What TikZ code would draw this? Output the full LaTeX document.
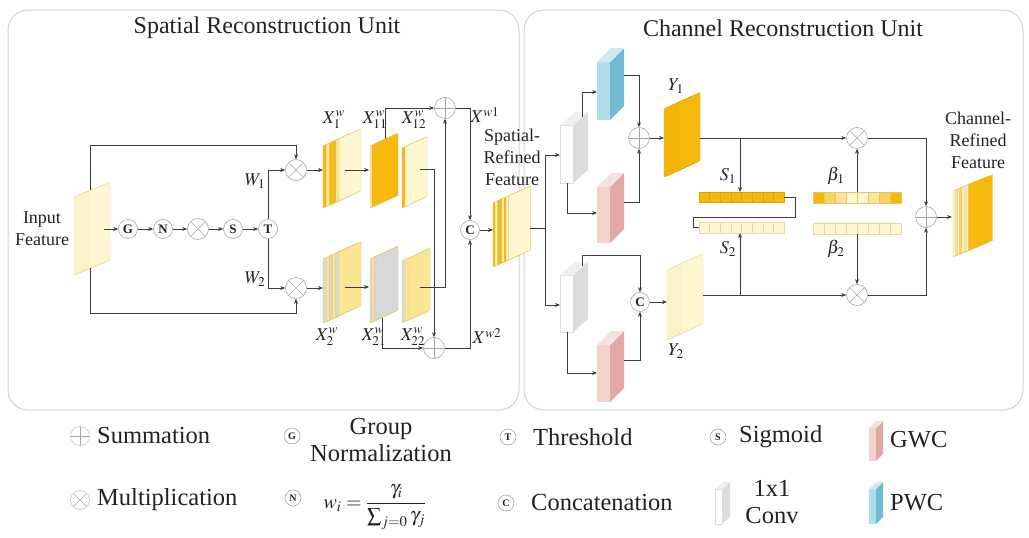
\documentclass[tikz,border=0pt]{standalone}
\usepackage{mathptmx}
\usepackage{fontspec}
\setmainfont{Liberation Serif}
\usetikzlibrary{arrows.meta,calc}
\definecolor{dY}{HTML}{F6B80A}
\definecolor{mY}{HTML}{FAD262}
\definecolor{lY}{HTML}{FCE49A}
\definecolor{pY}{HTML}{FEF6D0}
\definecolor{gY}{HTML}{F9E592}
\definecolor{gS}{HTML}{D8D8D8}
\definecolor{pinkF}{HTML}{F3D2CE}
\definecolor{pinkS}{HTML}{E0A9A6}
\definecolor{pinkT}{HTML}{F7E1DE}
\definecolor{blueF}{HTML}{AEDCEB}
\definecolor{blueS}{HTML}{70BAD2}
\definecolor{blueT}{HTML}{CDEAF3}
\definecolor{convS}{HTML}{DCDCDC}
\definecolor{convT}{HTML}{EFEFEF}
\definecolor{lineC}{HTML}{3C3C3C}
\definecolor{panelC}{HTML}{D2D2D2}
\definecolor{symC}{HTML}{A6A6A6}
\definecolor{inLine}{HTML}{E6DAA4}
\definecolor{stLine}{HTML}{E2C76A}
\definecolor{y1Line}{HTML}{E0A200}
\definecolor{txtC}{HTML}{222222}
% stack of sheets: x, ybottom, w, h, rise, step, linecolor, colours
\newcommand\fstack[8]{%
 \foreach \col [count=\k from 0] in {#8}{%
   \pgfmathsetmacro\xo{#1+\k*#6}%
   \pgfmathsetmacro\yo{#2-\k*#6*#5/#3}%
   \filldraw[draw=#7, fill=\col, line width=0.4pt] (\xo,\yo) -- ++(0,-#4) -- ++(#3,-#5) -- ++(0,#4) -- cycle;
 }}
% cuboid: x, ybottom, w, h, dx, dy, front, side, top
\newcommand\cuboid[9]{%
 \fill[#7] (#1,#2) rectangle ++(#3,-#4);
 \fill[#8] (#1+#3,#2) -- ++(#5,-#6) -- ++(0,-#4) -- ++(-#5,#6) -- cycle;
 \fill[#9] (#1,#2-#4) -- ++(#5,-#6) -- ++(#3,0) -- ++(-#5,#6) -- cycle;
}
% cell bar: x, y top, cell width, height, linecolor, colours
\newcommand\cellbar[6]{%
 \foreach \col [count=\k from 0] in {#6}{%
   \filldraw[draw=#5, fill=\col, line width=0.5pt] (#1+\k*#3,#2) rectangle ++(#3,#4);
 }}
\begin{document}
\begin{tikzpicture}[x=1pt,y=-1pt,
 conn/.style={draw=lineC, line width=0.7pt},
 arr/.style={conn, -{Stealth[length=5pt,width=4pt]}},
 opsym/.style={circle, draw=symC, line width=0.6pt, minimum size=21pt, inner sep=0pt, fill=white},
 plus/.style={opsym, path picture={\draw[symC, line width=0.6pt] (path picture bounding box.north) -- (path picture bounding box.south) (path picture bounding box.west) -- (path picture bounding box.east);}},
 times/.style={opsym, path picture={\draw[symC, line width=0.6pt] (path picture bounding box.south west) -- (path picture bounding box.north east) (path picture bounding box.north west) -- (path picture bounding box.south east);}},
 letter/.style={circle, draw=symC, fill=white, line width=0.6pt, minimum size=19pt, inner sep=0pt, text=txtC, font=\fontsize{13}{13}\selectfont\bfseries},
 lletter/.style={letter, minimum size=16pt, font=\fontsize{10}{10}\selectfont\bfseries},
 lbl/.style={font=\fontsize{18}{18}\selectfont, inner sep=0pt, text=txtC},
 txt/.style={font=\fontsize{18}{22}\selectfont, align=center, inner sep=0pt, text=txtC},
 leg/.style={font=\fontsize{24.5}{27}\selectfont, inner sep=0pt, align=center, text=txtC},
 title/.style={font=\fontsize{24}{24}\selectfont, inner sep=0pt, text=txtC},
 panel/.style={draw=panelC, line width=1pt, rounded corners=20pt}
]
\useasboundingbox (0,0) rectangle (1029,538);
% panels
\draw[panel] (8,10) rectangle (519,410);
\draw[panel] (524,10) rectangle (1023,410);
\node[title] (t1) at (267,28) {Spatial Reconstruction Unit};
\node[title] (t2) at (783,28) {Channel Reconstruction Unit};

% ---------- Spatial Reconstruction Unit ----------
\node[txt] (inlbl) at (42,229) {Input\\Feature};
\fstack{74}{275}{22}{78}{9}{2}{inLine}{pY,pY,pY,pY,pY,pY,pY,pY}
\coordinate (inR) at (104,229);
\coordinate (inTop) at (90,190);
\coordinate (inBot) at (90,268);

\node[letter] (G) at (128,229) {G};
\node[letter] (N) at (163,229) {N};
\node[times] (m0) at (198,229) {};
\node[letter] (S) at (233,229) {S};
\node[letter] (T) at (268,229) {T};
\draw[arr] (inR) -- (G);
\draw[arr] (G) -- (N);
\draw[arr] (N) -- (m0);
\draw[arr] (m0) -- (S);
\draw[arr] (S) -- (T);

\node[times] (m1) at (296,170) {};
\node[times] (m2) at (296,288) {};
\draw[arr] (T) |- (m1);
\draw[arr] (T) |- (m2);
\node[lbl] (W1) at (255,181) {$W_1$};
\node[lbl] (W2) at (255,279) {$W_2$};
\draw[arr] (inTop) -- ++(0,-45) -| (m1);
\draw[arr] (inBot) -- ++(0,45) -| (m2);

% feature stacks
\fstack{323}{208}{22}{62}{10}{3.2}{stLine}{dY,lY,dY,dY,lY,pY}
\fstack{370}{208}{22}{62}{10}{2}{stLine}{lY,dY,dY,dY}
\fstack{402}{208}{22}{60}{10}{3}{stLine}{dY,pY}
\fstack{323}{323}{22}{64}{10}{3.2}{stLine}{gS,lY,gS,lY,gS,gY}
\fstack{370}{323}{22}{64}{10}{2}{stLine}{gS,lY,gS,gS}
\fstack{402}{323}{22}{62}{10}{3}{stLine}{gS,lY,gY}
\node[lbl] (lx1) at (334,120) {$X_1^w$};
\node[lbl] (lx11) at (375,120) {$X_{11}^w$};
\node[lbl] (lx12) at (414,120) {$X_{12}^w$};
\node[lbl] (lx2) at (327,337) {$X_2^w$};
\node[lbl] (lx21) at (374,337) {$X_{21}^w$};
\node[lbl] (lx22) at (413,337) {$X_{22}^w$};

\coordinate (x1in) at (323,170);
\coordinate (x1out) at (345,170);
\coordinate (x11in) at (369,170);
\coordinate (x2in) at (323,288);
\coordinate (x2out) at (345,287);
\coordinate (x21in) at (369,287);
\coordinate (x11top) at (385,139);
\coordinate (x12out) at (420,169);
\coordinate (x21bot) at (382,318);
\coordinate (x22out) at (420,287);
\draw[arr] (m1) -- (x1in);
\draw[arr] (m2) -- (x2in);
\draw[arr] (x1out) -- (x11in);
\draw[arr] (x2out) -- (x21in);

\node[plus] (pT) at (445,108) {};
\node[plus] (pB) at (434,348) {};
\node[letter] (C) at (470,230) {C};
\draw[arr] (x11top) |- (pT);
\draw[arr] (x21bot) |- (pB);
\draw[arr] (x12out) -| (pB);
\draw[arr] (x22out) -| (pT);
\draw[arr] (pT) -| (C);
\draw[arr] (pB) -| (C);
\node[lbl] (lw1) at (485,115) {$X^{w1}$};
\node[lbl] (lw2) at (487,336) {$X^{w2}$};

\fstack{493}{267}{22}{64}{10}{2.2}{stLine}{dY,pY,dY,dY,pY,dY,pY,pY}
\coordinate (srIn) at (493,230);
\draw[arr] (C) -- (srIn);
\node[txt] (srlbl) at (512,157) {Spatial-\\Refined\\Feature};

% ---------- Channel Reconstruction Unit ----------
\coordinate (srOut) at (530,228);
\coordinate (br) at (545,228);
\coordinate (c1in) at (560,155);
\coordinate (c2in) at (560,305);
\draw[conn] (srOut) -- (br);
\draw[arr] (br) |- (c1in);
\draw[arr] (br) |- (c2in);

\cuboid{560}{183}{13}{58}{15}{13}{white}{convS}{convT}
\cuboid{560}{332}{13}{57}{15}{13}{white}{convS}{convT}
\cuboid{597}{120}{13}{58}{14}{14}{blueF}{blueS}{blueT}
\cuboid{597}{243}{13}{56}{14}{14}{pinkF}{pinkS}{pinkT}
\cuboid{597}{402}{13}{57}{14}{14}{pinkF}{pinkS}{pinkT}
\draw[draw=convS, line width=0.4pt] (560,183) rectangle ++(13,-58);
\draw[draw=convS, line width=0.4pt] (560,332) rectangle ++(13,-57);

\coordinate (c1top) at (582,117);
\coordinate (c1bot) at (567,183);
\coordinate (pwcIn) at (597,92);
\coordinate (gw1In) at (597,213);
\coordinate (pwcOut) at (624,75);
\coordinate (gw1Out) at (624,202);
\coordinate (c2top) at (582,266);
\coordinate (c2bot) at (567,332);
\coordinate (gw2In) at (597,373);
\coordinate (gw2Out) at (624,360);
\draw[arr] (c1top) |- (pwcIn);
\draw[arr] (c1bot) |- (gw1In);
\draw[arr] (c2bot) |- (gw2In);

\node[plus] (pS) at (639,138) {};
\node[letter] (C2) at (640,302) {C};
\draw[arr] (pwcOut) -| (pS);
\draw[arr] (gw1Out) -| (pS);
\draw[arr] (c2top) -- ++(0,-11) -| (C2);
\draw[arr] (gw2Out) -| (C2);

\fstack{664}{177}{22}{68}{10}{2}{y1Line}{dY,dY,dY,dY,dY,dY,dY,dY}
\fstack{667}{340}{22}{70}{10}{2}{inLine}{pY,pY,pY,pY,pY,pY,pY,pY}
\node[lbl] (ly1) at (676,86) {$Y_1$};
\node[lbl] (ly2) at (676,351) {$Y_2$};
\coordinate (y1In) at (664,138);
\coordinate (y2In) at (667,302);
\draw[arr] (pS) -- (y1In);
\draw[arr] (C2) -- (y2In);

% S bars
\cellbar{699}{192}{10.625}{10}{y1Line}{dY,dY,dY,dY,dY,dY,dY,dY}
\cellbar{699}{222.5}{10.625}{10.5}{inLine}{pY,pY,pY,pY,pY,pY,pY,pY}
\cellbar{813}{192}{11}{11}{stLine}{dY,mY,lY,pY,pY,lY,mY,dY}
\cellbar{813}{223}{11}{11}{inLine}{pY,pY,pY,pY,pY,pY,pY,pY}
\node[lbl] (ls1) at (728,176) {$S_1$};
\node[lbl] (ls2) at (728,249) {$S_2$};
\node[lbl] (lb1) at (836,176) {$\beta_1$};
\node[lbl] (lb2) at (836,249) {$\beta_2$};

\node[times] (mu) at (857,138) {};
\node[times] (md) at (857,295) {};
\node[plus] (pR) at (926,217) {};
\coordinate (y1Out) at (700,138);
\coordinate (y2Out) at (703,295);
\coordinate (b1) at (740,138);
\coordinate (b2) at (740,295);
\coordinate (s1top) at (740,192);
\coordinate (s2bot) at (740,233);
\coordinate (s1R) at (784,197);
\coordinate (s2L) at (699,227.5);
\coordinate (be1top) at (857,192);
\coordinate (be2bot) at (857,234);
\draw[arr] (y1Out) -- (mu);
\draw[arr] (y2Out) -- (md);
\draw[arr] (b1) -- (s1top);
\draw[arr] (b2) -- (s2bot);
\draw[conn] (s1R) -- ++(11,0) -- ++(0,20) -- ++(-102,0) -- ++(0,10.5) -- (s2L);
\draw[arr] (be1top) -- (mu);
\draw[arr] (be2bot) -- (md);
\draw[arr] (mu) -| (pR);
\draw[arr] (md) -| (pR);

\fstack{953}{257}{24}{66}{10}{2.2}{stLine}{pY,lY,pY,mY,pY,lY,pY,dY}
\coordinate (crIn) at (952,217);
\draw[arr] (pR) -- (crIn);
\node[txt] (crlbl) at (978,140) {Channel-\\Refined\\Feature};

% ---------- legend ----------
\node[plus, draw=symC!70, minimum size=19pt] (lgP) at (80,436) {};
\node[leg, anchor=west] (lgPt) at (97,436) {Summation};
\node[times, draw=symC!70, minimum size=19pt] (lgM) at (80,500) {};
\node[leg, anchor=west] (lgMt) at (97,500) {Multiplication};
\node[lletter] (lgG) at (292,436) {G};
\node[leg] (lgGt) at (381,440) {Group\\Normalization};
\node[lletter] (lgN) at (293,498) {N};
\node[leg, font=\fontsize{20}{20}\selectfont] (lgNt) at (375,507) {$\displaystyle w_i=\frac{\gamma_i}{\sum\nolimits_{j=0}\gamma_j}$};
\node[lletter] (lgT) at (508,437) {T};
\node[leg, anchor=west] (lgTt) at (533,437) {Threshold};
\node[lletter] (lgC) at (506,503) {C};
\node[leg, anchor=west] (lgCt) at (531,503) {Concatenation};
\node[lletter] (lgS) at (718,437) {S};
\node[leg, anchor=west] (lgSt) at (739,437) {Sigmoid};
\cuboid{715}{524}{7}{35}{8}{7}{white}{convS}{convT}
\draw[draw=convS, line width=0.4pt] (715,524) rectangle ++(7,-35);
\node[leg] (lgCv) at (772,502) {1x1\\Conv};
\cuboid{869}{461}{7}{33}{7}{7}{pinkF}{pinkS}{pinkT}
\node[leg, anchor=west] (lgGw) at (890,440) {GWC};
\cuboid{869}{524}{7}{35}{7}{7}{blueF}{blueS}{blueT}
\node[leg, anchor=west] (lgPw) at (890,503) {PWC};
\end{tikzpicture}
\end{document}
